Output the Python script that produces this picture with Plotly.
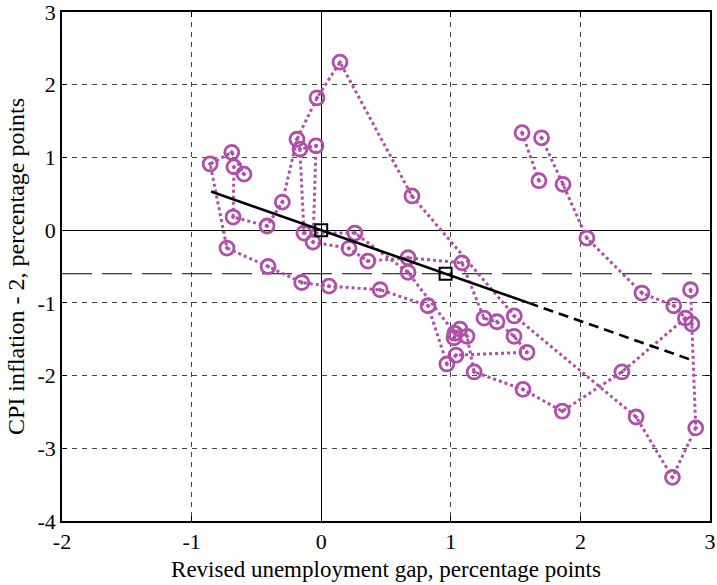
import plotly.graph_objects as go

# ---- data ----
gap = [2.85, 2.86, 2.89, 2.71, 2.43, 1.49, 0.70, 0.145, -0.032, -0.187,
       -0.30, -0.418, -0.68, -0.673, -0.596, -0.69, -0.857, -0.727, -0.41, -0.15,
       0.06, 0.455, 0.824, 0.97, 1.04, 1.588, 1.488, 1.356, 1.256, 1.086,
       0.67, 0.36, 0.214, -0.063, -0.04, -0.164, -0.133, 0.26, 0.67, 1.03,
       1.025, 1.07, 1.125, 1.18, 1.557, 1.86, 2.32, 2.81, 2.72, 2.475,
       2.05, 1.866, 1.70, None, 1.55, 1.68]
infl = [-0.82, -1.29, -2.72, -3.40, -2.57, -1.18, 0.47, 2.31, 1.82, 1.25,
        0.385, 0.057, 0.18, 0.87, 0.77, 1.07, 0.91, -0.246, -0.50, -0.72,
        -0.77, -0.82, -1.04, -1.84, -1.72, -1.68, -1.46, -1.26, -1.21, -0.45,
        -0.38, -0.425, -0.25, -0.164, 1.16, 1.115, -0.04, -0.04, -0.58, -1.42,
        -1.48, -1.36, -1.46, -1.95, -2.19, -2.49, -1.95, -1.21, -1.04, -0.865,
        -0.11, 0.63, 1.27, None, 1.34, 0.68]

fit_slope = -0.625
fit_solid_x = [-0.85, 1.6]
fit_dash_x = [1.6, 2.85]
square_x = [0.0, 0.96]
square_y = [0.0, -0.6]
avg_gap_line = -0.6

xticks = [-2, -1, 0, 1, 2, 3]
yticks = [-4, -3, -2, -1, 0, 1, 2, 3]

purple = "#B04FA8"

fig = go.Figure()

# average inflation line
fig.add_trace(go.Scatter(x=[-2, 3], y=[avg_gap_line, avg_gap_line], mode="lines",
                         line=dict(color="black", width=1.2, dash="30px,10px"),
                         hoverinfo="skip", showlegend=False))

fig.add_trace(go.Scatter(x=gap, y=infl, mode="lines+markers",
                         connectgaps=False,
                         line=dict(color=purple, width=3, dash="dot"),
                         marker=dict(symbol="circle-open-dot", size=14, color=purple,
                                     line=dict(width=2.8, color=purple)),
                         showlegend=False))

fig.add_trace(go.Scatter(x=fit_solid_x, y=[fit_slope * v for v in fit_solid_x], mode="lines",
                         line=dict(color="black", width=2.6), showlegend=False))
fig.add_trace(go.Scatter(x=fit_dash_x, y=[fit_slope * v for v in fit_dash_x], mode="lines",
                         line=dict(color="black", width=2.6, dash="10px,6px"), showlegend=False))
fig.add_trace(go.Scatter(x=square_x, y=square_y, mode="markers",
                         marker=dict(symbol="square-open", size=12, color="black",
                                     line=dict(width=2, color="black")),
                         showlegend=False))

axis_common = dict(showgrid=True, gridcolor="#444444", griddash="5px,5px", gridwidth=1,
                   zeroline=True, zerolinecolor="black", zerolinewidth=1,
                   showline=True, linecolor="black", linewidth=1.5, mirror="ticks",
                   ticks="inside", ticklen=5, tickcolor="black", automargin=False,
                   ticklabeloverflow="allow",
                   tickfont=dict(family="Liberation Serif", size=22, color="black"))

fig.update_layout(
    width=717, height=585,
    margin=dict(l=62, r=7, t=12, b=64),
    paper_bgcolor="white", plot_bgcolor="white",
    font=dict(family="Liberation Serif", color="black"),
    xaxis=dict(range=[-2, 3], tickvals=xticks, ticktext=[str(v) for v in xticks],
               title=dict(text="Revised unemployment gap, percentage points",
                          font=dict(family="Liberation Serif", size=23), standoff=8),
               **axis_common),
    yaxis=dict(range=[-4, 3], tickvals=yticks, ticktext=[str(v) for v in yticks],
               title=dict(text="CPI inflation - 2, percentage points",
                          font=dict(family="Liberation Serif", size=24), standoff=6),
               **axis_common),
)

fig.write_html("out.html", config={"displayModeBar": False},
               post_script="document.body.style.margin='0';document.body.style.overflow='hidden';")
